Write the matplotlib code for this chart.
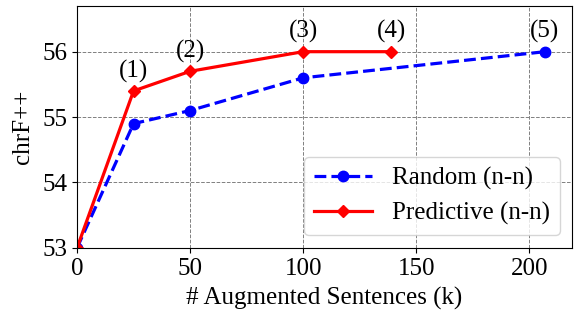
import matplotlib
matplotlib.use("Agg")
import matplotlib.pyplot as plt

plt.rcParams['font.family'] = ['Liberation Serif', 'DejaVu Serif']

# data
rand_x = [0, 25, 50, 100, 207]
rand_y = [53.0, 54.9, 55.1, 55.6, 56.0]
pred_x = [0, 25, 50, 100, 139]
pred_y = [53.0, 55.4, 55.7, 56.0, 56.0]

# annotation labels: (text, x, y)
labels = ['(1)', '(2)', '(3)', '(4)', '(5)']
label_x = [25, 50, 100, 139, 207]
label_y = [55.4, 55.7, 56.0, 56.0, 56.0]

fig, ax = plt.subplots(figsize=(5.75, 3.11), dpi=100)
fig.subplots_adjust(left=0.134, right=0.995, top=0.981, bottom=0.203)

ax.plot(rand_x, rand_y, 'o--', color='blue', lw=2.3, ms=7.5, label='Random (n-n)')
ax.plot(pred_x, pred_y, 'D-', color='red', lw=2.3, ms=6.5, label='Predictive (n-n)')

for t, x, y in zip(labels, label_x, label_y):
    ax.annotate(t, (x, y), xytext=(0, 6), textcoords='offset points',
                ha='center', va='bottom', fontsize=18)

ax.set_xlim(0, 219)
ax.set_ylim(53, 56.7)
ax.set_xticks([0, 50, 100, 150, 200])
ax.set_yticks([53, 54, 55, 56])
ax.tick_params(labelsize=18)
ax.grid(color='gray', linestyle='--', lw=0.7)
ax.set_xlabel('# Augmented Sentences (k)', fontsize=18, labelpad=5)
ax.set_ylabel('chrF++', fontsize=18, labelpad=6)
ax.legend(loc='lower right', fontsize=18, handlelength=2.3, borderpad=0.4,
          labelspacing=0.5)

fig.savefig('out.png', dpi=100)
